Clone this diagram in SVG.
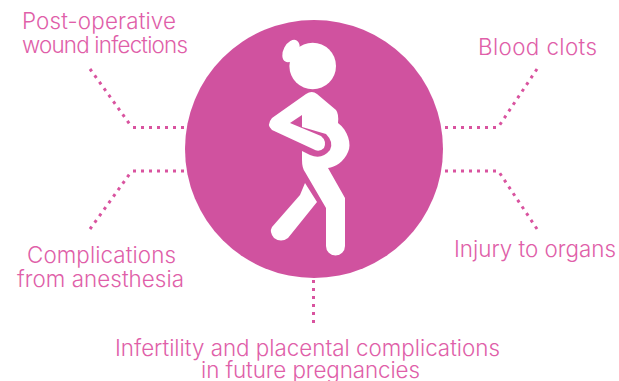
<svg xmlns="http://www.w3.org/2000/svg" width="619" height="381" viewBox="0 0 619 381">
<style>
text{font-family:"Inter","Liberation Sans",sans-serif;font-weight:300;font-size:22.400px;fill:#e05fa9}
.d{fill:none;stroke:#d9539f;stroke-width:3;stroke-dasharray:3 5}
.w{fill:#fff}
</style>
<rect width="619" height="381" fill="#fff"/>
<g id="connectors">
<path class="d" d="M90,69 L131,126 M133,127.500 H184"/>
<path class="d" d="M537,229 L499,172 M496,171 H445"/>
<path class="d" d="M90,229 L131,172 M133,171 H184"/>
<path class="d" d="M537,69 L499,126 M496,127.500 H445"/>
<path class="d" d="M313.500,280 V326"/>
</g>
<g id="center">
<circle cx="314" cy="149" r="129" fill="#d0529f"/>
<circle class="w" cx="312.700" cy="66" r="23.300"/>
<ellipse class="w" cx="291" cy="51" rx="7.500" ry="12" transform="rotate(28 291 51)"/>
<path class="w" d="M306,94 Q312,90 317,94 L336,110 Q339,114 338,123 C348,130 352,145 348,152 C344,162 335,167 328,168 L345,198 V246 a9.500,9.500 0 0 1 -19,0 V208 L305,172 Q302,168 302,160 V115 L290,123 L272,128 L272,118 Z"/>
<path d="M302,127 L326,134 Q334,142 330,150 Q322,160 310,155 L302,151 Z" fill="#d0529f"/>
<path class="w" d="M290,123 L321,136 Q327,141 324,148 Q319,153 313,149 L272,130 Q266,125 272,118 Z"/>
<path class="w" d="M305,183 L317,202 L288,238 Q281,243 274,238 Q269,232 272,227 L300,195 Z"/>
</g>
<g id="n1"><text x="22" y="29" textLength="154">Post-operative</text><text x="22" y="53" textLength="166">wound infections</text></g>
<g id="n2"><text x="478" y="55" textLength="119">Blood clots</text></g>
<g id="n3"><text x="454" y="257" textLength="162">Injury to organs</text></g>
<g id="n4"><text x="27" y="263" textLength="149">Complications</text><text x="17" y="287" textLength="167">from anesthesia</text></g>
<g id="n5"><text x="115" y="356" textLength="385">Infertility and placental complications</text><text x="201" y="378" textLength="219">in future pregnancies</text></g>
</svg>
